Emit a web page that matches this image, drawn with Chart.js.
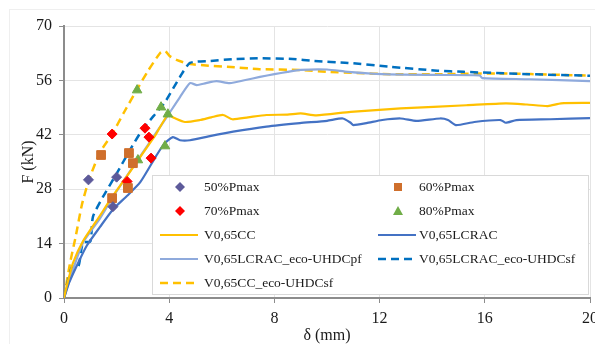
<!DOCTYPE html>
<html>
<head>
<meta charset="utf-8">
<script src="https://cdn.jsdelivr.net/npm/chart.js@4/dist/chart.umd.min.js"></script>
<style>
  html, body { margin: 0; padding: 0; background: #fff; overflow: hidden; }
  #wrap { position: relative; width: 595px; height: 344px; overflow: hidden; }
  #frame { position: absolute; left: 9px; top: 9px; width: 600px; height: 400px; border: 1px solid #efefef; }
  #holder { position: absolute; left: 0; top: 0; width: 605px; height: 344px; }
</style>
</head>
<body>
<div id="wrap">
  <div id="frame"></div>
  <div id="holder"><canvas id="chart" width="605" height="344"></canvas></div>
</div>
<script>
// x ticks / y ticks
const xTicks = [0, 4, 8, 12, 16, 20];
const yTicks = [0, 14, 28, 42, 56, 70];

// marker series (delta mm, F kN)
const p50X = [0.93, 2.0, 1.86];
const p50Y = [30.4, 31.1, 23.5];
const p60X = [1.41, 2.47, 2.62, 2.43, 1.83];
const p60Y = [36.8, 37.3, 34.7, 28.3, 25.7];
const p70X = [1.83, 3.08, 3.23, 3.31, 2.4];
const p70Y = [42.2, 43.7, 41.4, 36.0, 30.0];
const p80X = [2.78, 3.69, 3.95, 3.84, 2.81];
const p80Y = [53.5, 49.1, 47.3, 39.1, 35.5];

// curves
const ccX = [0, 0.1, 0.34, 0.72, 1.3, 1.83, 2.4, 3.0, 3.5, 3.95, 4.2, 4.6, 5.17, 5.6, 6.05, 6.4, 7.0, 7.7, 8.5, 9.0, 9.6, 10.9, 12.8, 15.3, 16.8, 17.6, 18.4, 18.9, 20];
const ccY = [0, 3, 9, 14.6, 20.5, 26, 31.4, 37.3, 42.2, 47.1, 46.3, 45.3, 45.8, 46.5, 47.1, 46.0, 46.5, 47.1, 47.2, 47.5, 47.0, 47.9, 48.8, 49.6, 50.1, 49.8, 49.4, 50.1, 50.2];

const lcX = [0, 0.2, 0.5, 0.87, 1.37, 1.86, 2.4, 2.9, 3.5, 3.8, 4.14, 4.41, 4.79, 5.5, 6.43, 7.7, 8.97, 10.0, 10.6, 10.9, 11.0, 11.5, 12.1, 12.8, 13.4, 14.3, 14.6, 14.9, 15.6, 16.6, 16.8, 17.2, 18.5, 20];
const lcY = [0, 4, 8.5, 13.5, 18.3, 22.8, 26.3, 29.8, 36.5, 39.6, 41.4, 40.6, 40.6, 41.6, 42.8, 44.1, 45, 45.6, 46.2, 45.1, 44.5, 45.0, 45.8, 46.2, 45.6, 46.2, 45.8, 44.5, 45.3, 45.8, 45.1, 45.8, 46.0, 46.3];

const pfX = [0, 0.23, 0.72, 1.37, 1.86, 2.5, 3.2, 3.9, 4.41, 4.79, 5.05, 5.4, 5.8, 6.3, 6.9, 7.45, 8.0, 8.5, 9.0, 10.0, 10.8, 12.1, 14.2, 15.8, 15.9, 17.7, 20];
const pfY = [0, 5, 14.2, 20.5, 26, 32.5, 39.5, 46.5, 51.7, 55.3, 54.8, 55.3, 55.8, 55.3, 56.1, 56.9, 57.6, 58.2, 58.7, 58.8, 58.2, 57.6, 57.4, 57.3, 56.6, 56.3, 55.8];

const lsfX = [0, 0.3, 0.55, 0.72, 1.0, 1.1, 1.48, 2.0, 2.5, 2.97, 3.4, 3.84, 4.41, 4.79, 5.55, 6.5, 7.45, 8.7, 9.5, 10.8, 12.4, 14.2, 15.2, 17.7, 20];
const lsfY = [0, 8, 8.2, 14.3, 14.5, 20.9, 26, 32, 38, 43.2, 46.8, 50.4, 56.9, 60.5, 61.0, 61.5, 61.7, 61.5, 61.0, 60.5, 59.5, 58.5, 58.2, 57.6, 57.2];

const csfX = [0, 0.23, 0.45, 0.68, 0.95, 1.37, 1.83, 2.3, 2.78, 3.2, 3.65, 3.84, 4.03, 4.3, 4.8, 5.5, 6.2, 7.45, 8.97, 10, 11.1, 12.4, 14.2, 16.5, 19, 20];
const csfY = [0, 9, 16, 24, 30.4, 37.5, 42.2, 48, 53.7, 58.5, 63, 63.6, 62.2, 61.2, 60.2, 59.8, 59.5, 58.9, 58.7, 58.2, 57.9, 57.6, 57.6, 57.8, 57.4, 57.2];

const pts = (xs, ys) => xs.map((x, i) => ({ x: x, y: ys[i] }));

const markerSet = (label, xs, ys, style, color, r) => ({
    label: label, data: pts(xs, ys), showLine: false,
    pointStyle: style, pointRadius: r, pointHoverRadius: r,
    backgroundColor: color, borderColor: color, borderWidth: 1
});
const lineSet = (label, xs, ys, color, dash, w) => ({
    label: label, data: pts(xs, ys), showLine: true, pointRadius: 0,
    borderColor: color, backgroundColor: color, borderWidth: w,
    borderDash: dash, tension: 0.2, fill: false
});

const serif = "'Liberation Serif', 'Times New Roman', serif";

// two column legend box drawn in the canvas
const boxLegend = {
    id: 'boxLegend',
    afterDraw(chart) {
        const ctx = chart.ctx;
        const left = 152, top = 175, right = 588, bottom = 294;
        ctx.save();
        ctx.fillStyle = '#fff';
        ctx.fillRect(left, top, right - left, bottom - top);
        ctx.strokeStyle = '#d9d9d9';
        ctx.lineWidth = 1;
        ctx.strokeRect(left + 0.5, top + 0.5, right - left, bottom - top);
        ctx.font = '13.5px ' + serif;
        ctx.textBaseline = 'middle';
        ctx.fillStyle = '#1a1a1a';
        chart.data.datasets.forEach((ds, i) => {
            const col = i % 2, row = Math.floor(i / 2);
            const y = 187 + row * 24;
            const mx = col ? 398 : 180;
            const tx = col ? 419 : 204;
            if (ds.showLine) {
                ctx.beginPath();
                ctx.setLineDash(ds.borderDash || []);
                ctx.strokeStyle = ds.borderColor;
                ctx.lineWidth = ds.borderWidth;
                ctx.moveTo(mx - 20, y);
                ctx.lineTo(mx + 18, y);
                ctx.stroke();
                ctx.setLineDash([]);
            } else {
                ctx.fillStyle = ds.backgroundColor;
                ctx.beginPath();
                if (ds.pointStyle === 'rectRot') {
                    ctx.moveTo(mx, y - 5); ctx.lineTo(mx + 5, y); ctx.lineTo(mx, y + 5); ctx.lineTo(mx - 5, y);
                } else if (ds.pointStyle === 'rect') {
                    ctx.rect(mx - 4, y - 4, 8, 8);
                } else {
                    ctx.moveTo(mx, y - 5); ctx.lineTo(mx + 5, y + 4); ctx.lineTo(mx - 5, y + 4);
                }
                ctx.closePath();
                ctx.fill();
            }
            ctx.fillStyle = '#1a1a1a';
            ctx.fillText(ds.label, tx, y);
        });
        ctx.restore();
    }
};

new Chart(document.getElementById('chart').getContext('2d'), {
    type: 'scatter',
    data: {
        datasets: [
            markerSet('50%Pmax', p50X, p50Y, 'rectRot', '#5d5a9a', 5),
            markerSet('60%Pmax', p60X, p60Y, 'rect', '#cf6f2c', 6.2),
            markerSet('70%Pmax', p70X, p70Y, 'rectRot', '#ff0000', 5),
            markerSet('80%Pmax', p80X, p80Y, 'triangle', '#70ad47', 5.5),
            lineSet('V0,65CC', ccX, ccY, '#ffc000', [], 2.2),
            lineSet('V0,65LCRAC', lcX, lcY, '#4472c4', [], 2.2),
            lineSet('V0,65LCRAC_eco-UHDCpf', pfX, pfY, '#8faadc', [], 2.2),
            lineSet('V0,65LCRAC_eco-UHDCsf', lsfX, lsfY, '#0070c0', [8, 5], 2.5),
            lineSet('V0,65CC_eco-UHDCsf', csfX, csfY, '#ffc000', [8, 5], 2.5)
        ]
    },
    options: {
        responsive: false,
        animation: false,
        layout: { padding: { top: 26, right: 15, left: 21, bottom: 0 } },
        plugins: { legend: { display: false }, tooltip: { enabled: false } },
        scales: {
            x: {
                type: 'linear', min: 0, max: 20,
                afterBuildTicks: (s) => { s.ticks = xTicks.map(v => ({ value: v })); },
                afterFit: (s) => { s.height = 46; },
                ticks: { color: '#1a1a1a', font: { family: serif, size: 16 }, padding: 6, maxRotation: 0 },
                grid: { color: '#e4e4e4', tickColor: '#8c8c8c', tickLength: 5, lineWidth: 1 },
                border: { color: '#8c8c8c', width: 2 },
                title: { display: true, text: 'δ (mm)', color: '#1a1a1a', font: { family: serif, size: 16, lineHeight: 1 }, padding: { top: 0, bottom: 0 } }
            },
            y: {
                type: 'linear', min: 0, max: 70,
                afterBuildTicks: (s) => { s.ticks = yTicks.map(v => ({ value: v })); },
                afterFit: (s) => { s.width = 43; },
                ticks: { color: '#1a1a1a', font: { family: serif, size: 16 }, padding: 7 },
                grid: { color: '#e4e4e4', tickColor: '#8c8c8c', tickLength: 5, lineWidth: 1 },
                border: { color: '#8c8c8c', width: 2 },
                title: { display: true, text: 'F (kN)', color: '#1a1a1a', font: { family: serif, size: 16, lineHeight: 1 }, padding: { top: 0, bottom: 0 } }
            }
        }
    },
    plugins: [boxLegend]
});
</script>
</body>
</html>
